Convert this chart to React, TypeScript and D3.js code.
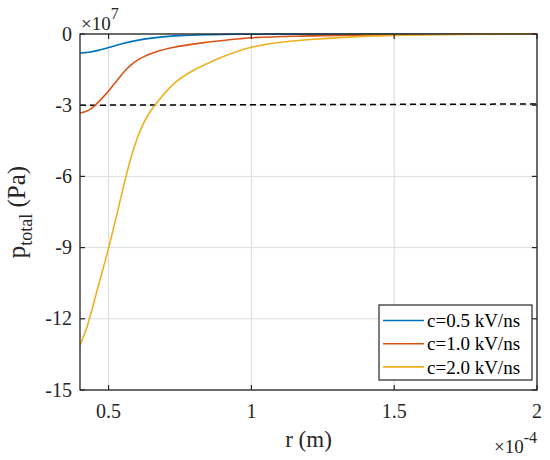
import { useMemo } from 'react'
import * as d3 from 'd3'

// r in units of 1e-4 m, p in units of 1e7 Pa
const rBlue = [0.4, 0.43, 0.46, 0.5, 0.55, 0.6, 0.65, 0.7, 0.75, 0.85, 0.95, 1.1, 1.4, 2.0]
const pBlue = [-0.8, -0.77, -0.7, -0.57, -0.4, -0.27, -0.175, -0.11, -0.07, -0.03, -0.012, -0.004, -0.001, 0]

const rRed = [0.4, 0.42, 0.44, 0.46, 0.48, 0.5, 0.52, 0.54, 0.56, 0.58, 0.6, 0.63, 0.67, 0.73, 0.85, 0.96, 1.0, 1.2, 1.5, 1.75, 2.0]
const pRed = [-3.33, -3.27, -3.13, -2.92, -2.67, -2.4, -2.1, -1.8, -1.52, -1.29, -1.11, -0.92, -0.74, -0.56, -0.34, -0.2, -0.16, -0.08, -0.03, -0.01, 0]

const rYellow = [0.4, 0.42, 0.44, 0.46, 0.48, 0.5, 0.52, 0.54, 0.56, 0.58, 0.6, 0.62, 0.64, 0.66, 0.7, 0.73, 0.79, 0.85, 0.9, 1.0, 1.1, 1.23, 1.34, 1.5, 1.7, 2.0]
const pYellow = [-13.1, -12.5, -11.7, -10.8, -9.92, -9.03, -8.05, -7.05, -6.05, -5.15, -4.4, -3.82, -3.38, -3.04, -2.45, -2.08, -1.58, -1.22, -0.96, -0.56, -0.35, -0.21, -0.13, -0.06, -0.02, 0]

const rLimit = [0.4, 2.0]
const pLimit = [-3.0, -2.95]

const seriesNames = ['c=0.5 kV/ns', 'c=1.0 kV/ns', 'c=2.0 kV/ns']
const seriesColors = ['#0072BD', '#D95319', '#EDB120']

const xTicks = [0.5, 1, 1.5, 2]
const xTickLabels = ['0.5', '1', '1.5', '2']
const yTicks = [0, -3, -6, -9, -12, -15]
const yTickLabels = ['0', '-3', '-6', '-9', '-12', '-15']

const font = "'Liberation Serif', 'Times New Roman', serif"

export default function App() {
  const width = 550
  const height = 460
  const margin = { top: 34, right: 13, bottom: 70, left: 80 }
  const innerW = width - margin.left - margin.right
  const innerH = height - margin.top - margin.bottom

  const x = d3.scaleLinear().domain([0.4, 2]).range([0, innerW])
  const y = d3.scaleLinear().domain([-15, 0]).range([innerH, 0])

  const line = d3.line<[number, number]>()
    .x(d => x(d[0]))
    .y(d => y(d[1]))
    .curve(d3.curveMonotoneX)

  const series = useMemo(() => [
    d3.zip(rBlue, pBlue) as [number, number][],
    d3.zip(rRed, pRed) as [number, number][],
    d3.zip(rYellow, pYellow) as [number, number][],
  ], [])

  const limitPath = d3.line<[number, number]>()
    .x(d => x(d[0]))
    .y(d => y(d[1]))(d3.zip(rLimit, pLimit) as [number, number][])

  const axisColor = '#262626'
  const tickLen = 5

  const legend = { x: 299, y: 271, w: 153, h: 75 }

  return (
    <div style={{ position: 'absolute', left: 0, top: 0 }}>
      <svg width={width} height={height} style={{ display: 'block', background: '#fff' }}>
        <g transform={`translate(${margin.left},${margin.top})`}>
          {/* grid */}
          {xTicks.map(t => (
            <line key={'gx' + t} x1={x(t)} x2={x(t)} y1={0} y2={innerH} stroke="#dcdcdc" strokeWidth={1} />
          ))}
          {yTicks.map(t => (
            <line key={'gy' + t} x1={0} x2={innerW} y1={y(t)} y2={y(t)} stroke="#dcdcdc" strokeWidth={1} />
          ))}

          {/* dashed limit line */}
          <path d={limitPath || ''} fill="none" stroke="#000" strokeWidth={1.5} strokeDasharray="6,4" />

          {/* curves */}
          {series.map((s, i) => (
            <path key={i} d={line(s) || ''} fill="none" stroke={seriesColors[i]} strokeWidth={1.6} />
          ))}

          {/* box */}
          <rect x={0} y={0} width={innerW} height={innerH} fill="none" stroke={axisColor} strokeWidth={1.3} />

          {/* ticks */}
          {xTicks.map(t => (
            <g key={'tx' + t}>
              <line x1={x(t)} x2={x(t)} y1={innerH} y2={innerH - tickLen} stroke={axisColor} strokeWidth={1.2} />
              <line x1={x(t)} x2={x(t)} y1={0} y2={tickLen} stroke={axisColor} strokeWidth={1.2} />
            </g>
          ))}
          {yTicks.map(t => (
            <g key={'ty' + t}>
              <line x1={0} x2={tickLen} y1={y(t)} y2={y(t)} stroke={axisColor} strokeWidth={1.2} />
              <line x1={innerW} x2={innerW - tickLen} y1={y(t)} y2={y(t)} stroke={axisColor} strokeWidth={1.2} />
            </g>
          ))}

          {/* tick labels */}
          {xTicks.map((t, i) => (
            <text key={'lx' + t} x={x(t)} y={innerH + 28} textAnchor="middle" fontFamily={font} fontSize={20} fill="#262626">
              {xTickLabels[i]}
            </text>
          ))}
          {yTicks.map((t, i) => (
            <text key={'ly' + t} x={-8} y={y(t)} dy="0.33em" textAnchor="end" fontFamily={font} fontSize={20} fill="#262626">
              {yTickLabels[i]}
            </text>
          ))}

          {/* exponent labels */}
          <text x={1} y={-4} fontFamily={font} fontSize={19} fill="#262626">
            ×10<tspan dy={-11} fontSize={16}>7</tspan>
          </text>
          <text x={innerW} y={innerH + 63} textAnchor="end" fontFamily={font} fontSize={19} fill="#262626">
            ×10<tspan dy={-10} fontSize={16}>-4</tspan>
          </text>

          {/* axis titles */}
          <text x={innerW / 2} y={innerH + 57} textAnchor="middle" fontFamily={font} fontSize={23} fill="#262626">
            r (m)
          </text>
          <text transform={`translate(${-55},${innerH / 2}) rotate(-90)`} textAnchor="middle" fontFamily={font} fontSize={25} fill="#262626">
            p<tspan dy={7} fontSize={18}>total</tspan><tspan dy={-7}> (Pa)</tspan>
          </text>

          {/* legend */}
          <g transform={`translate(${legend.x},${legend.y})`}>
            <rect x={0} y={0} width={legend.w} height={legend.h} fill="#fff" stroke={axisColor} strokeWidth={1.2} />
            {seriesNames.map((name, i) => (
              <g key={name} transform={`translate(0,${15.5 + i * 23.2})`}>
                <line x1={4} x2={45} y1={0} y2={0} stroke={seriesColors[i]} strokeWidth={1.6} />
                <text x={48} y={0} dy="0.35em" fontFamily={font} fontSize={19} fill="#000">
                  {name}
                </text>
              </g>
            ))}
          </g>
        </g>
      </svg>
    </div>
  )
}
